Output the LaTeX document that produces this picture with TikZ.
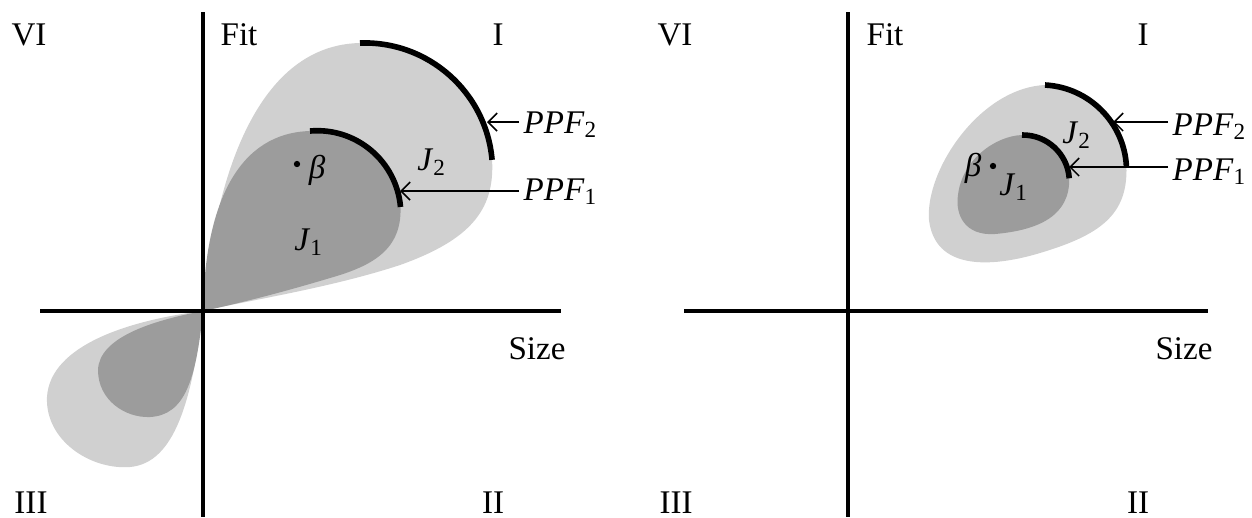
\documentclass[tikz,border=0pt]{standalone}
\usepackage{fontspec}
\setmainfont{Liberation Serif}
\usetikzlibrary{arrows.meta}
\definecolor{lj}{RGB}{208,208,208}
\definecolor{dj}{RGB}{156,156,156}

\begin{document}
\begin{tikzpicture}[x=0.01cm, y=-0.01cm,
    axis/.style={line width=1.15pt},
    front/.style={line width=1.6pt},
    lab/.style={font=\fontsize{9.4}{11}\selectfont, inner sep=0pt},
    ppf/.style={lab, anchor=base west, inner xsep=0.04cm},
    arr/.style={-{Straight Barb[length=0.9mm,width=1.8mm]}, line width=0.45pt}]

\useasboundingbox (0,0) rectangle (1252,517);

% ════════════════════════════════════════════════
%  LEFT PANEL
% ════════════════════════════════════════════════
\coordinate (oL) at (203,311);

% J2 (light) and J1 (dark), quadrant I
\fill[lj] (oL) .. controls (215,170) and (260,45) .. (360,43)
    arc[start angle=92, end angle=5, radius=1.28cm]
    .. controls (495,210) and (470,240) .. (400,265)
    .. controls (330,288) and (250,300) .. (oL);
\fill[dj] (oL) .. controls (205,200) and (240,133) .. (310,131)
    arc[start angle=95, end angle=5, radius=0.835cm]
    .. controls (402,250) and (372,266) .. (330,278)
    .. controls (280,293) and (240,303) .. (oL);

% mirrored lobes, quadrant III
\fill[lj] (oL) .. controls (130,320) and (50,345) .. (47,397)
    .. controls (45,440) and (90,470) .. (130,467)
    .. controls (175,463) and (192,400) .. (oL);
\fill[dj] (oL) .. controls (150,321) and (99,338) .. (98,370)
    .. controls (98,400) and (125,418) .. (150,417)
    .. controls (185,415) and (196,380) .. (oL);

% axes
\draw[axis] (40,311) -- (561,311);
\draw[axis] (203,12) -- (203,517);

% frontiers
\draw[front] (360,43) arc[start angle=92, end angle=5, radius=1.28cm];
\draw[front] (310,131) arc[start angle=95, end angle=5, radius=0.835cm];
\coordinate (t2L) at (487,122);
\coordinate (t1L) at (400,191);

% labels
\node[lab] (sixL) at (29,35) {VI};
\node[lab] (fitL) at (239,35) {Fit};
\node[lab] (oneL) at (498,35) {I};
\node[lab] (sizeL) at (537,349) {Size};
\node[lab] (threeL) at (31,503) {III};
\node[lab] (twoL) at (493,503) {II};

\fill (297,164) circle (0.9pt);
\node[lab] (betaL) at (317,170) {\textit{β}};
\node[lab] (jtwoL) at (432,162) {\textit{J}\textsubscript{2}};
\node[lab] (joneL) at (309,242) {\textit{J}\textsubscript{1}};

\node[ppf] (ppf2L) at (519,133) {\textit{PPF}\textsubscript{2}};
\node[ppf] (ppf1L) at (519,200) {\textit{PPF}\textsubscript{1}};
\draw[arr] (ppf2L.west |- t2L) -- (t2L);
\draw[arr] (ppf1L.west |- t1L) -- (t1L);

% ════════════════════════════════════════════════
%  RIGHT PANEL
% ════════════════════════════════════════════════
\coordinate (oR) at (848,311);

% J2 (light) and J1 (dark)
\fill[lj] (1045,85) arc[start angle=87, end angle=3, radius=0.86cm]
    .. controls (1128,215) and (1100,235) .. (1040,253)
    .. controls (990,268) and (935,270) .. (929,220)
    .. controls (925,170) and (980,88) .. (1045,85);
\fill[dj] (1022,135) arc[start angle=91, end angle=4, radius=0.465cm]
    .. controls (1070,215) and (1040,230) .. (995,234)
    .. controls (965,236) and (955,215) .. (958,195)
    .. controls (962,160) and (995,136) .. (1022,135);

% axes
\draw[axis] (684,311) -- (1208,311);
\draw[axis] (848,12) -- (848,517);

% frontiers
\draw[front] (1045,85) arc[start angle=87, end angle=3, radius=0.86cm];
\draw[front] (1022,135) arc[start angle=91, end angle=4, radius=0.465cm];
\coordinate (t2R) at (1113,122);
\coordinate (t1R) at (1069,167);

% labels
\node[lab] (sixR) at (675,35) {VI};
\node[lab] (fitR) at (885,35) {Fit};
\node[lab] (oneR) at (1143,35) {I};
\node[lab] (sizeR) at (1184,349) {Size};
\node[lab] (threeR) at (676,503) {III};
\node[lab] (twoR) at (1138,503) {II};

\fill (993,166) circle (0.9pt);
\node[lab] (betaR) at (973,168) {\textit{β}};
\node[lab] (jtwoR) at (1077,135) {\textit{J}\textsubscript{2}};
\node[lab] (joneR) at (1014,187) {\textit{J}\textsubscript{1}};

\node[ppf] (ppf2R) at (1168,135) {\textit{PPF}\textsubscript{2}};
\node[ppf] (ppf1R) at (1168,180) {\textit{PPF}\textsubscript{1}};
\draw[arr] (ppf2R.west |- t2R) -- (t2R);
\draw[arr] (ppf1R.west |- t1R) -- (t1R);

\end{tikzpicture}
\end{document}
